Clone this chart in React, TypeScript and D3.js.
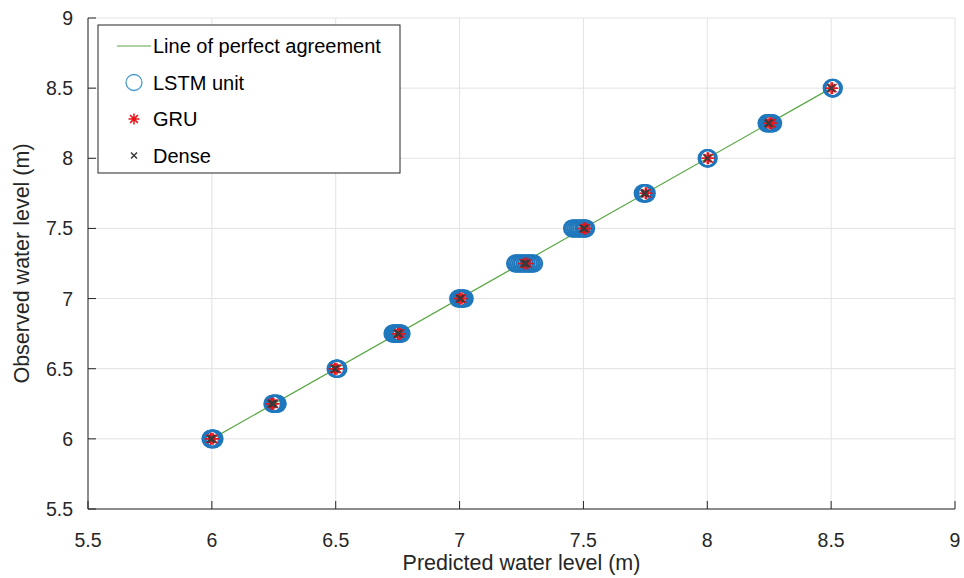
import * as d3 from "d3"

// observed water level (m) at each sampled stage
const levels = [6.0, 6.25, 6.5, 6.75, 7.0, 7.25, 7.5, 7.75, 8.0, 8.25, 8.5]

// predicted values per observed level
const lstmPred = [
  [5.995, 5.998, 6.0, 6.003, 6.005, 6.008, 6.01],
  [6.245, 6.248, 6.25, 6.255, 6.26, 6.263, 6.265],
  [6.5, 6.503, 6.505, 6.508, 6.51],
  [6.73, 6.735, 6.74, 6.745, 6.75, 6.755, 6.76, 6.765],
  [6.995, 7.0, 7.005, 7.01, 7.015, 7.02],
  [7.225, 7.232, 7.24, 7.248, 7.255, 7.263, 7.27, 7.278, 7.285, 7.292, 7.3],
  [7.455, 7.462, 7.47, 7.478, 7.485, 7.492, 7.5, 7.505, 7.51],
  [7.74, 7.745, 7.75, 7.755],
  [7.998, 8.0, 8.003, 8.005],
  [8.24, 8.245, 8.25, 8.255, 8.26, 8.265],
  [8.503, 8.505, 8.508, 8.51],
]
const gruPred = [
  [5.995, 6.0, 6.005],
  [6.24, 6.245, 6.25],
  [6.495, 6.5, 6.505],
  [6.75, 6.755, 6.76],
  [7.0, 7.005, 7.01],
  [7.26, 7.268, 7.275],
  [7.5, 7.505, 7.51],
  [7.75, 7.755],
  [8.0, 8.005],
  [8.25, 8.255, 8.26],
  [8.5, 8.505],
]
const densePred = [
  [5.995, 5.998, 6.0],
  [6.24, 6.245, 6.25],
  [6.495, 6.5],
  [6.75, 6.755],
  [7.0, 7.005],
  [7.26, 7.265, 7.27],
  [7.5, 7.505],
  [7.745, 7.75],
  [8.0],
  [8.245, 8.25],
  [8.5],
]

const ticks = [5.5, 6, 6.5, 7, 7.5, 8, 8.5, 9]
const legendItems = ["Line of perfect agreement", "LSTM unit", "GRU", "Dense"]

const W = 964
const H = 578
const m = { left: 88, right: 9, top: 18, bottom: 69 }
const font = "'Liberation Sans', Arial, sans-serif"
const ink = "#262626"
const blue = "#1f78bd"
const red = "#e8141b"
const gray = "#3a3a3a"

function Star({ x, y, r }: { x: number; y: number; r: number }) {
  const d = `M${x - r},${y}L${x + r},${y}M${x},${y - r}L${x},${y + r}` +
    `M${x - r * 0.7},${y - r * 0.7}L${x + r * 0.7},${y + r * 0.7}` +
    `M${x - r * 0.7},${y + r * 0.7}L${x + r * 0.7},${y - r * 0.7}`
  return <path d={d} stroke={red} strokeWidth={1.5} fill="none" />
}

function Cross({ x, y, r }: { x: number; y: number; r: number }) {
  const d = `M${x - r},${y - r}L${x + r},${y + r}M${x - r},${y + r}L${x + r},${y - r}`
  return <path d={d} stroke={gray} strokeWidth={1.5} fill="none" />
}

export default function App() {
  const x = d3.scaleLinear().domain([5.5, 9]).range([m.left, W - m.right])
  const y = d3.scaleLinear().domain([5.5, 9]).range([H - m.bottom, m.top])
  const x0 = m.left
  const y0 = H - m.bottom

  const lineGen = d3.line<number>().x(d => x(d)).y(d => y(d))
  const perfect = [levels[0], levels[levels.length - 1]]

  const lg = { x: 98, y: 25, w: 302, h: 148 }

  return (
    <svg width={W} height={H} style={{ position: "absolute", left: 0, top: 0, background: "#fff" }}
      fontFamily={font}>
      {/* grid */}
      {ticks.map(t => (
        <g key={"g" + t}>
          <line x1={x(t)} x2={x(t)} y1={m.top} y2={y0} stroke="#e3e3e3" strokeWidth={1} />
          <line x1={x0} x2={W - m.right} y1={y(t)} y2={y(t)} stroke="#e3e3e3" strokeWidth={1} />
        </g>
      ))}

      {/* perfect agreement line */}
      <path d={lineGen(perfect) || ""} stroke="#5aa845" strokeWidth={1.2} fill="none" />

      {/* LSTM */}
      {lstmPred.map((row, i) => row.map((p, j) => (
        <circle key={`l${i}-${j}`} cx={x(p)} cy={y(levels[i])} r={8.3} fill="none" stroke={blue} strokeWidth={2} />
      )))}
      {/* GRU */}
      {gruPred.map((row, i) => row.map((p, j) => (
        <Star key={`g${i}-${j}`} x={x(p)} y={y(levels[i])} r={6} />
      )))}
      {/* Dense */}
      {densePred.map((row, i) => row.map((p, j) => (
        <Cross key={`d${i}-${j}`} x={x(p)} y={y(levels[i])} r={3.5} />
      )))}

      {/* axes */}
      <line x1={x0} x2={W - m.right} y1={y0} y2={y0} stroke={ink} strokeWidth={1} />
      <line x1={x0} x2={x0} y1={m.top} y2={y0} stroke={ink} strokeWidth={1} />
      {ticks.map(t => (
        <g key={"t" + t}>
          <line x1={x(t)} x2={x(t)} y1={y0} y2={y0 - 8} stroke={ink} />
          <text x={x(t)} y={y0 + 38} textAnchor="middle" fontSize={19.5} fill={ink}>{t}</text>
          <line x1={x0} x2={x0 + 8} y1={y(t)} y2={y(t)} stroke={ink} />
          <text x={x0 - 15} y={y(t) + 7} textAnchor="end" fontSize={19.5} fill={ink}>{t}</text>
        </g>
      ))}
      <text x={(x0 + W - m.right) / 2} y={570} textAnchor="middle" fontSize={21.5} fill={ink}>
        Predicted water level (m)
      </text>
      <text transform={`translate(29,${(m.top + y0) / 2}) rotate(-90)`} textAnchor="middle" fontSize={21.5} fill={ink}>
        Observed water level (m)
      </text>

      {/* legend */}
      <rect x={lg.x} y={lg.y} width={lg.w} height={lg.h} fill="#fff" stroke="#262626" strokeWidth={1} />
      {legendItems.map((name, i) => {
        const cy = 46 + i * 36.5
        const sx = 134
        return (
          <g key={name}>
            {i === 0 && <line x1={117} x2={151} y1={cy} y2={cy} stroke="#5aa845" strokeWidth={1.2} />}
            {i === 1 && <circle cx={sx} cy={cy} r={8} fill="none" stroke="#4a9ad0" strokeWidth={1.3} />}
            {i === 2 && <Star x={sx} y={cy} r={5.5} />}
            {i === 3 && <Cross x={sx} y={cy} r={3} />}
            <text x={153} y={cy + 7} fontSize={20} fill="#000">{name}</text>
          </g>
        )
      })}
    </svg>
  )
}
